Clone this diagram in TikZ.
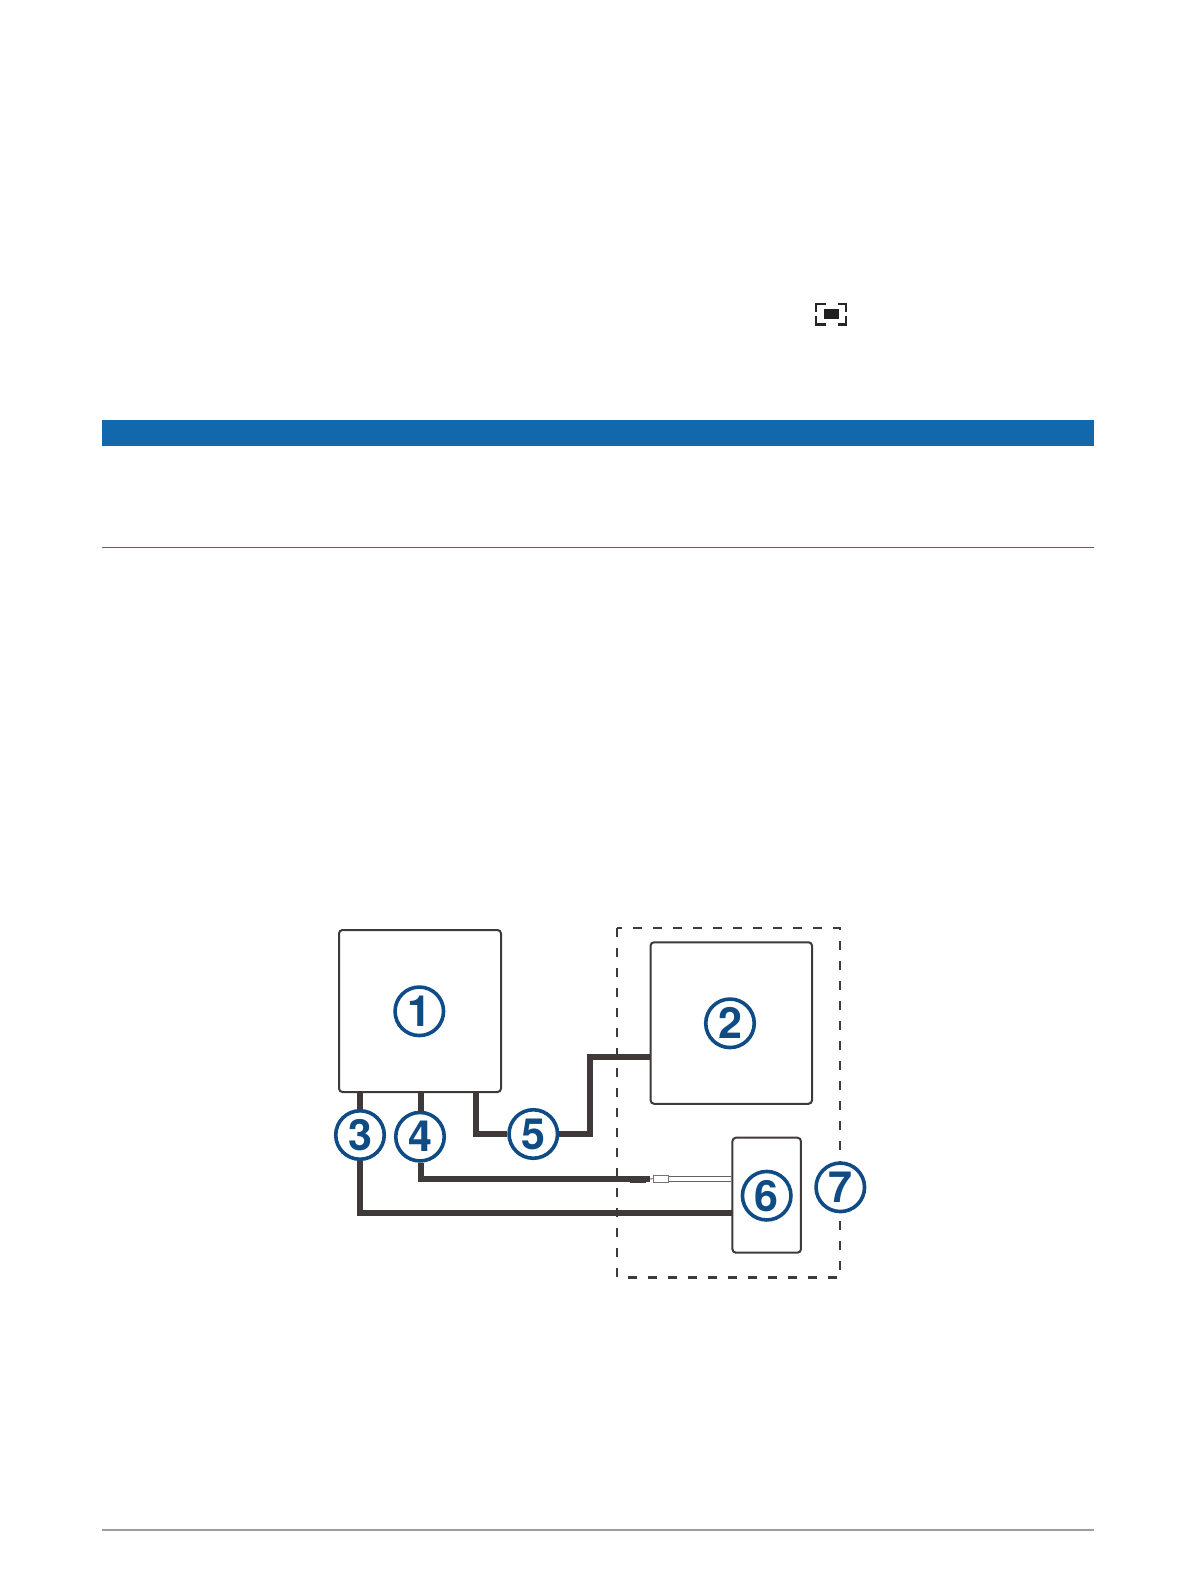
\documentclass[tikz,border=0pt]{standalone}
\usepackage{fontspec}
\setmainfont{TeX Gyre Heros}
\definecolor{wire}{HTML}{3F3A39}
\definecolor{callout}{HTML}{0F4C86}
\definecolor{bar}{HTML}{1268AD}
\definecolor{rule}{HTML}{2A6F9E}
\tikzset{
  devicebox/.style={draw=wire,line width=2pt,rounded corners=3.5pt,fill=white,inner sep=0pt},
  numcircle/.style={circle,draw=callout,line width=3.6pt,fill=white,minimum size=48.5pt,inner sep=0pt,text=callout,font=\fontsize{43}{43}\selectfont\bfseries},
  cable/.style={draw=wire,line width=6pt,line join=miter},
  dashbox/.style={draw=wire,line width=2.2pt,dash pattern=on 9pt off 11pt},
  thincable/.style={draw=wire!80,line width=.9pt}
}
\begin{document}
\begin{tikzpicture}[x=1pt,y=-1pt]
\useasboundingbox (0,0) rectangle (1196,1582);
\fill[white] (0,0) rectangle (1196,1582);
% page furniture
\fill[bar] (102,420) rectangle (1094,445.7);
\draw[rule,line width=1pt] (102,547.5) -- (1094,547.5);
\draw[black!38,line width=1.2pt] (102,1530) -- (1094,1530);
% focus icon
\fill[black!88] (824.3,309) rectangle (839,319.3);
\draw[black!85,line width=2.6pt] (816,312) -- (816,304) -- (825.5,304);
\draw[black!85,line width=2.6pt] (837.5,304) -- (846,304) -- (846,312);
\draw[black!85,line width=2.6pt] (816,316) -- (816,324.2) -- (825.5,324.2);
\draw[black!85,line width=2.6pt] (837.5,324.2) -- (846,324.2) -- (846,316);
% dashed enclosure
\draw[dashbox] (617,928) rectangle (840,1277.5);
% boxes
\node[devicebox,minimum width=162pt,minimum height=162pt] (box1) at (420,1011) {};
\node[devicebox,minimum width=161.5pt,minimum height=161.5pt] (box2) at (731.3,1023) {};
\node[devicebox,minimum width=68.5pt,minimum height=115pt] (box6) at (766.7,1195.2) {};
% named points
\coordinate (p3) at (360,1092);
\coordinate (p4) at (421,1092);
\coordinate (p5) at (476.2,1092);
\coordinate (e3) at (731.5,1212.7);
\coordinate (e4) at (650,1179);
\coordinate (k5) at (590,1133);
\coordinate (e5) at (650,1057);
% callouts
\node[numcircle] (n1) at (419.3,1011.3) {1};
\node[numcircle] (n2) at (730,1023.3) {2};
\node[numcircle] (n3) at (360,1135) {3};
\node[numcircle] (n4) at (420,1136.7) {4};
\node[numcircle] (n5) at (533.3,1134) {5};
\node[numcircle] (n6) at (766.7,1195.7) {6};
\node[numcircle] (n7) at (840.3,1187.3) {7};
% connectors
\draw[cable] (p3) -- (p3 |- n3.north);
\draw[cable] (p3 |- n3.south) |- (e3);
\draw[cable] (p4) -- (p4 |- n4.north);
\draw[cable] (p4 |- n4.south) |- (e4);
\draw[cable] (p5) |- (n5.west);
\draw[cable] (n5.east) -| (k5) |- (e5);
% sensor plug
\fill[wire] (630,1179) rectangle (646,1182.8);
\node[draw=black!55,line width=.9pt,fill=white,minimum width=15.5pt,minimum height=7.3pt,inner sep=0pt] (plug) at (661,1178.7) {};
\draw[thincable] (plug.north east |- 0,1176) -- (box6.west |- 0,1176);
\draw[thincable] (plug.south east |- 0,1181.4) -- (box6.west |- 0,1181.4);
\draw[thincable] (e4) -- (plug.west);
\end{tikzpicture}
\end{document}
